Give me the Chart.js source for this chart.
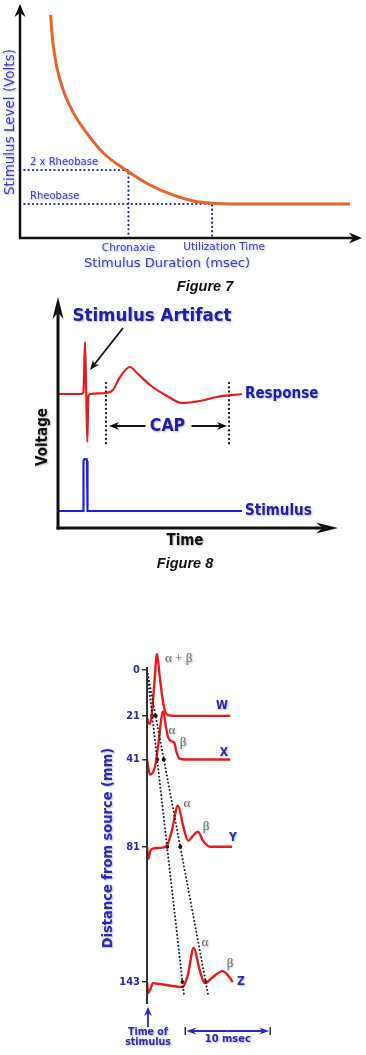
<!DOCTYPE html>
<html>
<head>
<meta charset="utf-8">
<script src="https://cdn.jsdelivr.net/npm/chart.js@4.4.1/dist/chart.umd.min.js"></script>
<style>
  html, body { margin: 0; padding: 0; background: #fff; }
  body { position: relative; width: 366px; height: 1055px; overflow: hidden; }
  canvas { position: absolute; left: 0; }
  #fig7 { top: 0; }
  #fig8 { top: 290px; }
  #fig9 { top: 630px; }
</style>
</head>
<body>
<canvas id="fig7" width="366" height="300"></canvas>
<canvas id="fig8" width="366" height="290"></canvas>
<canvas id="fig9" width="366" height="425"></canvas>
<script>
// ---- Figure 7: strength-duration curve ----
const sdDuration = [0.9, 0.96, 1.08, 1.27, 1.57, 1.96, 2.45, 3.19, 3.82, 4.51, 5.1, 5.64, 6.18, 9.71];
const sdVolts = [6.56, 5.82, 5.04, 4.35, 3.68, 3.09, 2.5, 1.95, 1.56, 1.26, 1.09, 1.02, 1.0, 1.0];
const rheobase = 1;
const chronaxie = 3.19;
const utilizationTime = 5.65;

// ---- Figure 8: stimulus artifact / compound action potential ----
const respTime = [0, 2.4, 2.55, 2.7, 2.83, 2.93, 3.03, 3.2, 4.8, 5.5, 6.2, 7.2, 7.9, 9.2, 10.9, 12.4, 14.2, 15.9, 18.4];
const respVolts = [13.4, 13.4, 13.6, 18.6, 13.4, 8.6, 13.0, 13.4, 13.5, 13.8, 15.1, 16.1, 15.5, 14.3, 13.2, 12.5, 12.7, 13.1, 13.4];
const stimTime = [0, 2.5, 2.55, 2.65, 2.85, 2.9, 2.95, 18.4];
const stimVolts = [1.7, 1.7, 6.7, 6.9, 6.9, 6.7, 1.7, 1.7];
const capStart = 4.8;
const capEnd = 17.1;

// ---- Figure 9: CAP recorded at increasing distances ----
const traceNames = ["W", "X", "Y", "Z"];
const traceDistance = [21, 41, 81, 143];
const distanceTicks = [0, 21, 41, 81, 143];
const wTime = [0, 0.3, 0.55, 0.85, 1.18, 1.5, 1.95, 2.45, 3.2, 9.8];
const wAmp = [-1, -3.7, 0, 14, 28.4, 18, 5, 0.3, 0, 0];
const xTime = [0, 0.35, 0.95, 1.3, 1.9, 2.25, 2.5, 2.95, 3.2, 3.45, 3.8, 4.5, 9.8];
const xAmp = [0, -6.9, -3.2, 6, 22, 14.5, 10, 8.3, 7.8, 3.7, 0.5, 0, 0];
const yTime = [0, 0.15, 0.4, 0.7, 1.5, 2.3, 2.9, 3.65, 4.25, 4.85, 5.4, 6.0, 6.6, 7.4, 10.0];
const yAmp = [0, -5.5, -1.8, -0.8, -0.5, 0.3, 7, 18.8, 9.6, 2.7, 5, 6.9, 2.7, 0, 0];
const zTime = [0, 0.15, 0.4, 0.7, 1.5, 4.2, 4.8, 5.5, 6.2, 6.8, 7.6, 8.9, 9.5, 10.1];
const zAmp = [0, -5, -3.2, -0.5, -0.9, -2.3, 3.2, 15.6, 5.5, -0.5, 1.8, 5, 3.2, 0];
const traceTimes = [wTime, xTime, yTime, zTime];
const traceAmps = [wAmp, xAmp, yAmp, zAmp];
// the two dotted conduction lines, both from (0 ms, 0 mm)
const lineEndTime = [4.35, 7.2];
const lineEndDist = 149;

const CONDENSED = "'DejaVu Sans Condensed', 'DejaVu Sans', sans-serif";
const VERDANA = "'DejaVu Sans', sans-serif";

function txt(ctx, s, x, y, font, color, align = "center", rotate = 0, shadow = true) {
  ctx.save();
  ctx.font = font;
  ctx.fillStyle = color;
  ctx.textAlign = align;
  ctx.textBaseline = "middle";
  if (shadow) {
    ctx.shadowColor = "rgba(0,0,0,0.3)";
    ctx.shadowBlur = 2;
    ctx.shadowOffsetX = 1;
    ctx.shadowOffsetY = 1;
  }
  ctx.translate(x, y);
  if (rotate) ctx.rotate(rotate);
  ctx.fillText(s, 0, 0);
  ctx.restore();
}

function arrow(ctx, x1, y1, x2, y2, len, half, color, width) {
  const a = Math.atan2(y2 - y1, x2 - x1);
  const c = Math.cos(a), s = Math.sin(a);
  ctx.save();
  ctx.strokeStyle = color;
  ctx.fillStyle = color;
  ctx.lineWidth = width;
  ctx.beginPath();
  ctx.moveTo(x1, y1);
  ctx.lineTo(x2 - c * len * 0.7, y2 - s * len * 0.7);
  ctx.stroke();
  ctx.beginPath();
  ctx.moveTo(x2, y2);
  ctx.lineTo(x2 - c * len + s * half, y2 - s * len - c * half);
  ctx.lineTo(x2 - c * len * 0.7, y2 - s * len * 0.7);
  ctx.lineTo(x2 - c * len - s * half, y2 - s * len + c * half);
  ctx.closePath();
  ctx.fill();
  ctx.restore();
}

const baseOptions = (padding, xScale, yScale) => ({
  responsive: false,
  animation: false,
  devicePixelRatio: 1,
  events: [],
  layout: { padding },
  plugins: { legend: { display: false }, tooltip: { enabled: false } },
  elements: { point: { radius: 0 } },
  scales: { x: xScale, y: yScale },
});

const dotted = (color) => ({
  borderColor: color,
  borderWidth: 2.2,
  borderDash: [0.1, 4.2],
  borderCapStyle: "round",
  tension: 0,
});

// ---------- Figure 7 ----------
const fig7Labels = {
  id: "fig7Labels",
  afterDraw(chart) {
    const { ctx } = chart;
    const xs = chart.scales.x, ys = chart.scales.y;
    const x0 = xs.getPixelForValue(0), y0 = ys.getPixelForValue(0);
    arrow(ctx, x0, y0 + 1, x0, 4, 13, 5.5, "#111", 2.5);
    arrow(ctx, x0 - 1, y0, 362, y0, 13, 5.5, "#111", 2.5);
    const blue = "#3a3ad2";
    txt(ctx, "2 x Rheobase", 30, ys.getPixelForValue(2 * rheobase) - 8, "10px " + VERDANA, blue, "left");
    txt(ctx, "Rheobase", 30, ys.getPixelForValue(rheobase) - 8, "10px " + VERDANA, blue, "left");
    txt(ctx, "Chronaxie", xs.getPixelForValue(chronaxie), 248, "10.5px " + VERDANA, blue);
    txt(ctx, "Utilization Time", xs.getPixelForValue(utilizationTime) + 12, 247, "10.5px " + VERDANA, blue);
    txt(ctx, "Stimulus Duration (msec)", 167, 264, "13px " + VERDANA, blue);
    txt(ctx, "Stimulus Level (Volts)", 10, 122, "13.5px " + VERDANA, blue, "center", -Math.PI / 2);
    txt(ctx, "Figure 7", 205, 287, "italic bold 14.5px 'Liberation Sans', Arial, sans-serif", "#111", "center", 0, false);
  },
};

new Chart(document.getElementById("fig7"), {
  type: "line",
  data: {
    datasets: [
      {
        data: sdDuration.map((t, i) => ({ x: t, y: sdVolts[i] })),
        borderColor: "#e9632b",
        borderWidth: 3,
        cubicInterpolationMode: "monotone",
      },
      {
        data: [{ x: 0, y: 2 * rheobase }, { x: chronaxie, y: 2 * rheobase }, { x: chronaxie, y: 0 }],
        ...dotted("#2323a2"),
      },
      {
        data: [{ x: 0, y: rheobase }, { x: utilizationTime, y: rheobase }, { x: utilizationTime, y: 0 }],
        ...dotted("#2323a2"),
      },
    ],
  },
  options: baseOptions(
    { left: 20, right: 6, top: 0, bottom: 62 },
    { type: "linear", min: 0, max: 10, display: false },
    { type: "linear", min: 0, max: 7, display: false }
  ),
  plugins: [fig7Labels],
});

// ---------- Figure 8 ----------
const fig8Labels = {
  id: "fig8Labels",
  afterDraw(chart) {
    const { ctx } = chart;
    const xs = chart.scales.x, ys = chart.scales.y;
    const x0 = xs.getPixelForValue(0), y0 = ys.getPixelForValue(0);
    arrow(ctx, x0, y0 + 1.5, x0, ys.getPixelForValue(23.1), 22, 5.5, "#111", 3);
    arrow(ctx, x0 - 1.5, y0, xs.getPixelForValue(28), y0, 22, 5.5, "#111", 3);
    const navy = "#2020a6";
    txt(ctx, "Stimulus Artifact", 152, 26, "bold 18.5px " + CONDENSED, navy);
    arrow(ctx, 123, 38, 90, 80, 10, 4, "#111", 1.8);
    const endX = xs.getPixelForValue(respTime[respTime.length - 1]) + 3;
    txt(ctx, "Response", endX, ys.getPixelForValue(respVolts[respVolts.length - 1]), "bold 15px " + CONDENSED, navy, "left");
    txt(ctx, "Stimulus", endX, ys.getPixelForValue(stimVolts[stimVolts.length - 1]), "bold 15px " + CONDENSED, navy, "left");
    const capY = ys.getPixelForValue(10.2);
    const mid = xs.getPixelForValue((capStart + capEnd) / 2);
    arrow(ctx, mid - 22, capY, xs.getPixelForValue(capStart) + 3, capY, 10, 4, "#111", 2);
    arrow(ctx, mid + 24, capY, xs.getPixelForValue(capEnd) - 2, capY, 10, 4, "#111", 2);
    txt(ctx, "CAP", mid, capY, "bold 17.5px " + CONDENSED, navy);
    txt(ctx, "Voltage", 43, 147, "bold 15px " + CONDENSED, "#111", "center", -Math.PI / 2);
    txt(ctx, "Time", 185, 251, "bold 15px " + CONDENSED, "#111");
    txt(ctx, "Figure 8", 185, 274, "italic bold 14.5px 'Liberation Sans', Arial, sans-serif", "#111", "center", 0, false);
  },
};

new Chart(document.getElementById("fig8"), {
  type: "line",
  data: {
    datasets: [
      {
        data: respTime.map((t, i) => ({ x: t, y: respVolts[i] })),
        borderColor: "#ea1a1a",
        borderWidth: 2.2,
        cubicInterpolationMode: "monotone",
      },
      {
        data: stimTime.map((t, i) => ({ x: t, y: stimVolts[i] })),
        borderColor: "#1e1ee8",
        borderWidth: 2.2,
        tension: 0,
      },
      { data: [{ x: capStart, y: 14.5 }, { x: capStart, y: 8.1 }], ...dotted("#111") },
      { data: [{ x: capEnd, y: 14.5 }, { x: capEnd, y: 8.1 }], ...dotted("#111") },
    ],
  },
  options: baseOptions(
    { left: 58, right: 28, top: 8, bottom: 52 },
    { type: "linear", min: 0, max: 28, display: false },
    { type: "linear", min: 0, max: 23, display: false }
  ),
  plugins: [fig8Labels],
});

// ---------- Figure 9 ----------
const greek = [
  // trace index, text, dx from axis, dy from baseline (px)
  [0, "\u03b1 + \u03b2", 18, -57, "left"],
  [1, "\u03b1", 25, -29, "center"],
  [1, "\u03b2", 36, -17, "center"],
  [2, "\u03b1", 40, -43, "center"],
  [2, "\u03b2", 59, -20, "center"],
  [3, "\u03b1", 58, -40, "center"],
  [3, "\u03b2", 83, -19, "center"],
];
const letterPos = [[75, -10], [77, -7], [86, -9], [94, 0]];

const fig9Labels = {
  id: "fig9Labels",
  afterDraw(chart) {
    const { ctx, chartArea } = chart;
    const xs = chart.scales.x, ys = chart.scales.y;
    const x0 = xs.getPixelForValue(0);
    ctx.save();
    ctx.strokeStyle = "#333";
    ctx.lineWidth = 2;
    ctx.beginPath();
    ctx.moveTo(x0, ys.getPixelForValue(-1.4));
    ctx.lineTo(x0, chartArea.bottom);
    ctx.stroke();
    ctx.restore();

    const blue = "#2a2ab2";
    txt(ctx, "Distance from source (mm)", 108, 218, "bold 14.5px " + CONDENSED, blue, "center", -Math.PI / 2);
    greek.forEach(([i, s, dx, dy, align]) => {
      txt(ctx, s, x0 + dx, ys.getPixelForValue(traceDistance[i]) + dy, "13px 'Liberation Serif', serif", "#666", align);
    });
    traceNames.forEach((name, i) => {
      const [dx, dy] = letterPos[i];
      txt(ctx, name, x0 + dx, ys.getPixelForValue(traceDistance[i]) + dy, "bold 12px " + CONDENSED, blue);
    });

    arrow(ctx, x0 + 1, 397, x0 + 1, 377, 9, 4, blue, 1.8);
    txt(ctx, "Time of", x0 + 1, 402, "bold 10.5px " + CONDENSED, blue);
    txt(ctx, "stimulus", x0 + 1, 412, "bold 10.5px " + CONDENSED, blue);

    const b1 = xs.getPixelForValue(4.5), b2 = xs.getPixelForValue(14.5);
    const mid = (b1 + b2) / 2;
    arrow(ctx, mid, 401, b1 + 1, 401, 10, 3.5, blue, 1.8);
    arrow(ctx, mid, 401, b2 - 1, 401, 10, 3.5, blue, 1.8);
    ctx.save();
    ctx.strokeStyle = "#333";
    ctx.lineWidth = 1.5;
    ctx.beginPath();
    ctx.moveTo(b1, 397); ctx.lineTo(b1, 405);
    ctx.moveTo(b2, 397); ctx.lineTo(b2, 405);
    ctx.stroke();
    ctx.restore();
    txt(ctx, "10 msec", mid, 409, "bold 11px " + CONDENSED, blue);
  },
};

const traceSets = traceTimes.map((times, k) => ({
  data: times.map((t, i) => ({ x: t, y: traceDistance[k] - traceAmps[k][i] })),
  borderColor: "#ea1a1a",
  borderWidth: 2.4,
  cubicInterpolationMode: "monotone",
}));
const lineSets = lineEndTime.map((t) => ({
  data: [{ x: 0, y: 0 }, { x: t, y: lineEndDist }],
  ...dotted("#222"),
  borderWidth: 2,
  borderDash: [0.1, 3.6],
}));
const crossings = [];
lineEndTime.forEach((t) => {
  traceDistance.forEach((d) => crossings.push({ x: (t * d) / lineEndDist, y: d }));
});

new Chart(document.getElementById("fig9"), {
  type: "line",
  data: {
    datasets: [
      ...lineSets,
      ...traceSets,
      { data: crossings, showLine: false, pointRadius: 2, pointBackgroundColor: "#111", pointBorderWidth: 0 },
    ],
  },
  options: baseOptions(
    { left: 107, right: 15, top: 20.4, bottom: 51.1 },
    { type: "linear", min: 0, max: 24, display: false },
    {
      type: "linear",
      min: -9,
      max: 153,
      reverse: true,
      afterBuildTicks: (scale) => {
        scale.ticks = distanceTicks.map((v) => ({ value: v }));
      },
      afterFit: (scale) => {
        scale.width = 40;
      },
      border: { display: false },
      grid: { drawOnChartArea: false, drawTicks: true, tickLength: 5, color: "#333", lineWidth: 1.5 },
      ticks: { padding: 2, color: "#2a2ab2", font: { family: CONDENSED, size: 11, weight: "bold" } },
    }
  ),
  plugins: [fig9Labels],
});
</script>
</body>
</html>
